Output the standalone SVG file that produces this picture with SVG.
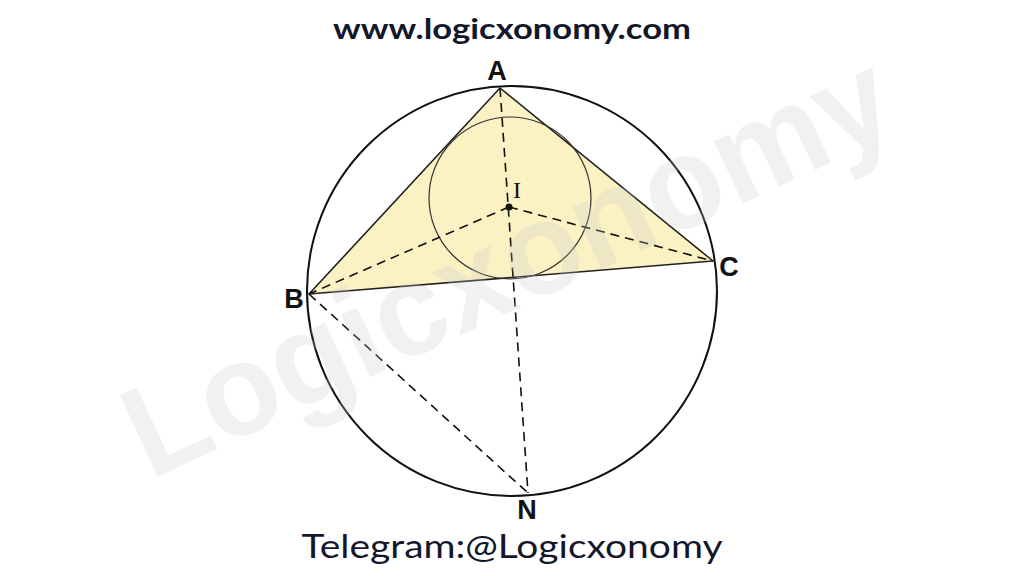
<svg xmlns="http://www.w3.org/2000/svg" width="1024" height="576" viewBox="0 0 1024 576">
<style>
.lbl{font-family:"Liberation Sans",Arial,sans-serif;font-weight:bold;font-size:27px;fill:#111;text-anchor:middle}
.dash{stroke:#111;stroke-width:1.6;stroke-dasharray:9,6;fill:none}
.head{font-family:"Lato","Noto Sans",sans-serif;fill:#14172a;text-anchor:middle}
</style>
<rect width="1024" height="576" fill="#ffffff"/>
<g id="triangle">
<polygon points="500,88 309,294 713,261" fill="#fbf2c4" stroke="#222" stroke-width="1.6" stroke-linejoin="round"/>
</g>
<g id="incircle">
<circle cx="510" cy="198" r="81" fill="none" stroke="#333" stroke-width="1.2"/>
</g>
<g id="circumcircle">
<circle cx="512" cy="291" r="205" fill="none" stroke="#111" stroke-width="2"/>
</g>
<g id="connectors">
<line class="dash" x1="500" y1="88" x2="528" y2="493"/>
<line class="dash" x1="509" y1="207" x2="309" y2="294"/>
<line class="dash" x1="509" y1="207" x2="713" y2="261"/>
<line class="dash" x1="309" y1="294" x2="528" y2="493"/>
</g>
<g id="point-I">
<circle cx="509" cy="207" r="3.5" fill="#111"/>
<text x="517" y="198" font-family="Liberation Serif,serif" font-size="24" fill="#111" text-anchor="middle">I</text>
</g>
<g id="label-A"><text class="lbl" x="497" y="80">A</text></g>
<g id="label-B"><text class="lbl" x="294" y="308">B</text></g>
<g id="label-C"><text class="lbl" x="729" y="276">C</text></g>
<g id="label-N"><text class="lbl" x="527" y="519">N</text></g>
<text class="head" x="512" y="39" font-size="29" font-weight="bold" textLength="358" lengthAdjust="spacingAndGlyphs">www.logicxonomy.com</text>
<text class="head" x="512" y="558" font-size="32" font-weight="normal" textLength="421" lengthAdjust="spacingAndGlyphs">Telegram:@Logicxonomy</text>
<text x="0" y="0" transform="translate(150,480) rotate(-25)" font-family="Liberation Sans,Arial,sans-serif" font-weight="bold" font-size="130" fill="#c8c8c8" fill-opacity="0.25" textLength="830" lengthAdjust="spacingAndGlyphs">Logicxonomy</text>
</svg>
